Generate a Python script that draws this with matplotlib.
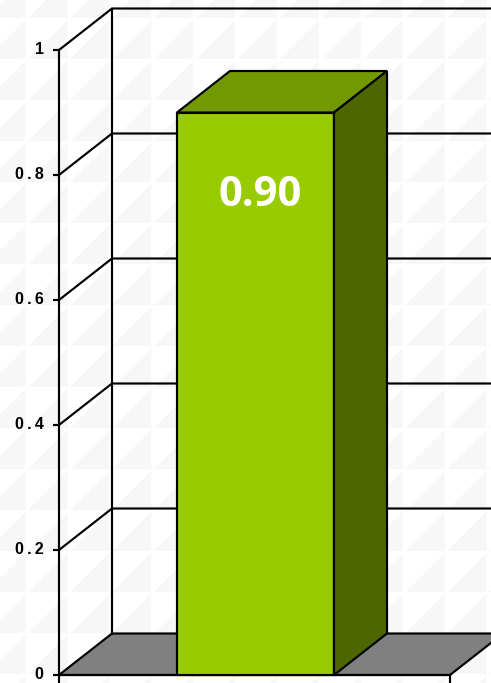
import matplotlib
matplotlib.use('Agg')
import matplotlib.pyplot as plt
from matplotlib.collections import PolyCollection
from matplotlib.transforms import ScaledTranslation

categories = ['']
values = [0.90]
value_labels = ['0.90']
y_ticks = [0, 0.2, 0.4, 0.6, 0.8, 1]
y_tick_labels = ['0', '0\u2009.\u20092', '0\u2009.\u20094', '0\u2009.\u20096', '0\u2009.\u20098', '1']

W, H = 491, 683
AXIS_X0, AXIS_X1 = 59, 450     # pixel span of the one category
Y0, Y1 = 675, 50               # pixel rows of 0 and 1
PX_X = AXIS_X1 - AXIS_X0
PX_Y = Y0 - Y1

dx = 53 / PX_X                 # 3d depth in data units
dy = 41.5 / PX_Y
bar_width = 157 / PX_X

plt.rcParams['font.family'] = ['Liberation Sans', 'DejaVu Sans']
fig = plt.figure(figsize=(W / 100, H / 100), dpi=100, facecolor='white')

# tiled background
bg = fig.add_axes([0, 0, 1, 1], zorder=0)
bg.set_xlim(0, W)
bg.set_ylim(H, 0)
bg.axis('off')
tiles = []
tx, ty = 41.9, 41.0
for i in range(-1, 13):
    for j in range(-1, 18):
        x0 = 26.5 + i * tx
        y0 = 19 + j * ty
        tiles.append([(x0 + 2, y0 + ty - 1), (x0 + tx - 1, y0 + 1), (x0 + tx - 1, y0 + ty - 1)])
bg.add_collection(PolyCollection(tiles, facecolors='#f7f7f7', edgecolors='none'))

ax = fig.add_axes([0, 0, 1, 1], zorder=1)
ax.patch.set_alpha(0)
ax.set_xlim(-0.5 - AXIS_X0 / PX_X, -0.5 + (W - AXIS_X0) / PX_X)
ax.set_ylim(-(H - Y0) / PX_Y, Y0 / PX_Y)

lw = 1.55
left, right = -0.5, 0.5

# floor
ax.fill([left, right, right + dx, left + dx], [0, 0, dy, dy],
        facecolor='#808080', edgecolor='black', lw=lw, zorder=1)

# gridlines on side and back wall
for v in y_ticks[1:]:
    ax.plot([left, left + dx, right + dx], [v, v + dy, v + dy], color='black', lw=lw, zorder=1)
ax.plot([left + dx, left + dx], [dy, 1 + dy], color='black', lw=lw, zorder=1)

# 3d bars
for c, v, lab in zip(range(len(categories)), values, value_labels):
    l = c - bar_width / 2 + 1.0 / PX_X
    r = c + bar_width / 2 + 1.0 / PX_X
    ax.fill([l, r, r, l], [0, 0, v, v], facecolor='#99CC00', edgecolor='black', lw=lw, zorder=3)
    ax.fill([l, r, r + dx, l + dx], [v, v, v + dy, v + dy], facecolor='#739900', edgecolor='black', lw=lw, zorder=3)
    ax.fill([r, r + dx, r + dx, r], [0, dy, v + dy, v], facecolor='#4D6600', edgecolor='black', lw=lw, zorder=3)
    ax.text(c + 5.5 / PX_X, v - 0.133, lab, color='white', fontsize=30, fontweight='bold',
            family=['Open Sans', 'DejaVu Sans'], ha='center', va='center', zorder=4)

for s in ['top', 'right']:
    ax.spines[s].set_visible(False)
ax.spines['left'].set_position(('data', left))
ax.spines['left'].set_bounds(0, 1)
ax.spines['bottom'].set_position(('data', 0))
ax.spines['bottom'].set_bounds(left, right)
for s in ['left', 'bottom']:
    ax.spines[s].set_linewidth(lw)
    ax.spines[s].set_zorder(2)

ax.set_yticks(y_ticks)
ax.set_yticklabels(y_tick_labels, fontsize=11.5, fontweight='bold')
ax.set_xticks([left, right])
ax.set_xticklabels(['', ''])
ax.tick_params(axis='y', length=4.5, width=lw, pad=6.5)
ax.tick_params(axis='x', length=6, width=lw)

# tick labels sit a touch above their ticks
shift = ScaledTranslation(0, 1.5 / 72, fig.dpi_scale_trans)
for t in ax.get_yticklabels():
    t.set_transform(t.get_transform() + shift)

fig.savefig('out.png', dpi=100)
